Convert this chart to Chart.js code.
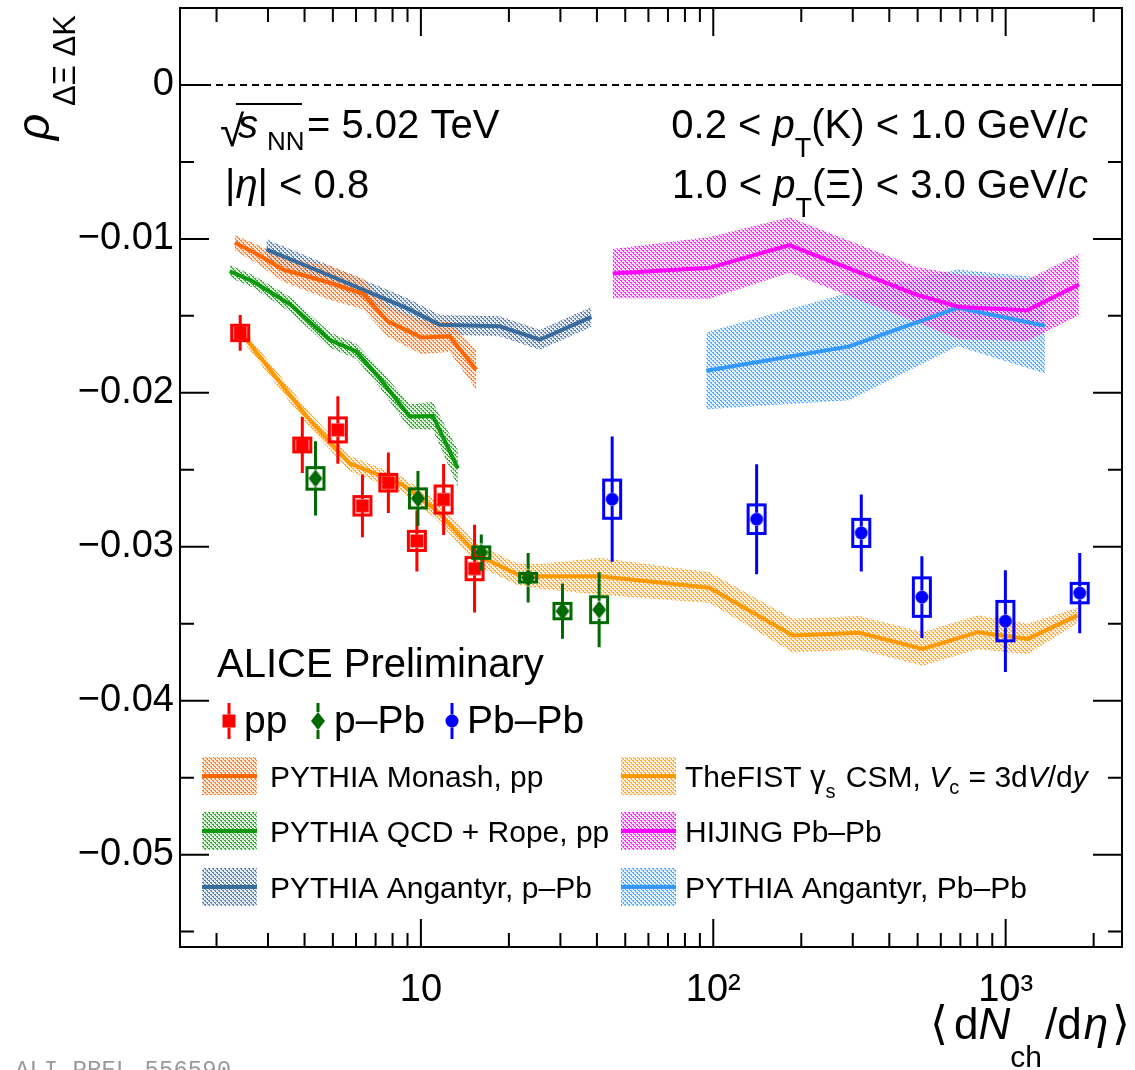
<!DOCTYPE html>
<html><head><meta charset="utf-8">
<script src="https://cdn.jsdelivr.net/npm/chart.js@4.4.1/dist/chart.umd.min.js"></script>
<style>html,body{margin:0;padding:0;background:#fff;}canvas{display:block;}</style>
</head><body>
<canvas id="c" width="1135" height="1070" style="width:1135px;height:1070px"></canvas>
<script>
// ---------------- data ----------------
const ppX    = [2.41, 3.93, 5.20, 6.31, 7.74, 9.69, 11.96, 15.26];
const ppY    = [-0.01611, -0.02339, -0.02241, -0.02734, -0.02584, -0.02962, -0.02693, -0.03142];
const ppStat = [0.00116, 0.00182, 0.00219, 0.00204, 0.00197, 0.00198, 0.0023, 0.00285];
const ppSys  = [0.0005, 0.00045, 0.00078, 0.0006, 0.00054, 0.00062, 0.00088, 0.00072];

const pPbX    = [4.36, 9.77, 16.09, 23.27, 30.5, 40.7];
const pPbY    = [-0.02556, -0.02686, -0.03038, -0.03201, -0.03418, -0.03409];
const pPbStat = [0.00241, 0.00179, 0.00117, 0.00161, 0.00179, 0.00243];
const pPbSys  = [0.0007, 0.00062, 0.00037, 0.00028, 0.0005, 0.00084];

const PbPbX    = [45.1, 140.7, 320.8, 517, 998, 1792];
const PbPbY    = [-0.02691, -0.02821, -0.0291, -0.03327, -0.03483, -0.03301];
const PbPbStat = [0.00407, 0.00357, 0.0025, 0.00265, 0.00331, 0.00261];
const PbPbSys  = [0.00124, 0.00093, 0.00088, 0.00125, 0.00128, 0.00063];

const monashX   = [2.31, 2.70, 3.38, 4.87, 6.33, 7.71, 10.03, 12.53, 15.47];
const monashY   = [-0.01025, -0.0109, -0.01199, -0.01285, -0.01357, -0.01536, -0.0164, -0.01633, -0.0185];
const monashErr = [0.0005, 0.0006, 0.0008, 0.0011, 0.001, 0.001, 0.0011, 0.001, 0.0013];

const ropeX   = [2.22, 2.66, 3.58, 4.87, 6.01, 7.22, 9.15, 10.99, 13.38];
const ropeY   = [-0.0121, -0.01275, -0.01427, -0.01655, -0.01731, -0.01904, -0.02154, -0.0215, -0.02491];
const ropeErr = [0.0004, 0.0004, 0.0005, 0.0005, 0.0005, 0.0006, 0.0008, 0.0009, 0.0012];

const angpPbX   = [2.96, 4.50, 6.33, 8.92, 11.58, 18.58, 25.5, 38.3];
const angpPbY   = [-0.01068, -0.0121, -0.01329, -0.01448, -0.01557, -0.01568, -0.01655, -0.01507];
const angpPbErr = [0.00065, 0.00065, 0.00065, 0.00065, 0.00065, 0.00065, 0.00065, 0.00065];

const fistX   = [2.43, 4.16, 5.70, 7.42, 8.68, 11.29, 15.66, 21.2, 25.5, 40.8, 97.1, 187, 316, 520, 802, 1189, 1763];
const fistY   = [-0.01611, -0.02176, -0.02458, -0.02545, -0.02599, -0.02762, -0.03055, -0.03175, -0.03192, -0.03192, -0.03266, -0.03577, -0.03559, -0.03663, -0.03555, -0.03598, -0.03446];
const fistErr = [0.0004, 0.0005, 0.0005, 0.0005, 0.0005, 0.0006, 0.0007, 0.0007, 0.0008, 0.0012, 0.0010, 0.0011, 0.0011, 0.0011, 0.0011, 0.0010, 0.0005];

const hijX   = [45.3, 97.1, 182, 495, 694, 1185, 1781];
const hijY   = [-0.01225, -0.01188, -0.0104, -0.01362, -0.01442, -0.01464, -0.01296];
const hijErr = [0.0016, 0.002, 0.0018, 0.0018, 0.0021, 0.002, 0.002];

const angPbPbX   = [94.6, 292, 685, 1364];
const angPbPbY   = [-0.01857, -0.01698, -0.01448, -0.01564];
const angPbPbErr = [0.0025, 0.0035, 0.0025, 0.0031];

const X_TICKS  = [2,3,4,5,6,7,8,9,10,20,30,40,50,60,70,80,90,100,200,300,400,500,600,700,800,900,1000,2000];
const X_MAJOR  = [10, 100, 1000];
const X_LABELS = {10: '10', 100: '10²', 1000: '10³'};
const Y_TICKS  = [-0.05, -0.04, -0.03, -0.02, -0.01, 0];
const Y_LABELS = ['−0.05', '−0.04', '−0.03', '−0.02', '−0.01', '0'];
const Y_MINOR_STEP = 0.005;

// ---------------- styles ----------------
const FONT = '"Liberation Sans", Arial, Helvetica, sans-serif';
const RED = '#ff0000', DGREEN = '#006a00', BLUE = '#0000ff';
const C_MONASH = '#ff6600', C_FIST = '#ff9900', C_ROPE = '#0c9a0c',
      C_ANGP = '#3a6b9e', C_HIJ = '#ff00ff', C_ANGA = '#3399ff';

function tilePattern(color) {
  const c = document.createElement('canvas'); c.width = 4; c.height = 4;
  const g = c.getContext('2d');
  g.fillStyle = color;
  g.globalAlpha = 0.14; g.fillRect(0, 0, 4, 4);
  g.globalAlpha = 0.8;
  g.fillRect(0, 0, 2, 1); g.fillRect(2, 2, 2, 1); g.fillRect(1, 1, 1, 1); g.fillRect(3, 3, 1, 1);
  return g.createPattern(c, 'repeat');
}
function markerCanvas(kind, color) {
  const c = document.createElement('canvas'); c.width = 20; c.height = 20;
  const g = c.getContext('2d'); g.fillStyle = color;
  if (kind === 'square') g.fillRect(3.5, 3.5, 13, 13);
  else if (kind === 'diamond') { g.beginPath(); g.moveTo(10, 1); g.lineTo(17, 10); g.lineTo(10, 19); g.lineTo(3, 10); g.closePath(); g.fill(); }
  else { g.beginPath(); g.arc(10, 10, 6.5, 0, 2 * Math.PI); g.fill(); }
  return c;
}
const M_PP = markerCanvas('square', RED), M_PPB = markerCanvas('diamond', DGREEN), M_PBPB = markerCanvas('circle', BLUE);
const PAT = {monash: tilePattern(C_MONASH), fist: tilePattern(C_FIST), rope: tilePattern(C_ROPE),
             angp: tilePattern(C_ANGP), hij: tilePattern(C_HIJ), anga: tilePattern(C_ANGA)};

function pts(xs, ys, off, sgn) { return xs.map((x, i) => ({x: x, y: ys[i] + (off ? sgn * off[i] : 0)})); }
function band(xs, ys, es, pat, color) {
  return [
    {data: pts(xs, ys, es, 1), borderWidth: 0, pointRadius: 0, fill: '+1', backgroundColor: pat, order: 3},
    {data: pts(xs, ys, es, -1), borderWidth: 0, pointRadius: 0, fill: false, order: 3},
    {data: pts(xs, ys), borderColor: color, borderWidth: 4, pointRadius: 0, fill: false, order: 2}
  ];
}

const datasets = [
  {data: pts(ppX, ppY), showLine: false, pointStyle: M_PP, pointRadius: 7, order: 0},
  {data: pts(pPbX, pPbY), showLine: false, pointStyle: M_PPB, pointRadius: 7, order: 0},
  {data: pts(PbPbX, PbPbY), showLine: false, pointStyle: M_PBPB, pointRadius: 7, order: 0},
  ...band(monashX, monashY, monashErr, PAT.monash, C_MONASH),
  ...band(ropeX, ropeY, ropeErr, PAT.rope, C_ROPE),
  ...band(angpPbX, angpPbY, angpPbErr, PAT.angp, C_ANGP),
  ...band(fistX, fistY, fistErr, PAT.fist, C_FIST),
  ...band(hijX, hijY, hijErr, PAT.hij, C_HIJ),
  ...band(angPbPbX, angPbPbY, angPbPbErr, PAT.anga, C_ANGA),
  {data: [{x: 1.5, y: 0}, {x: 2500, y: 0}], borderColor: '#000', borderWidth: 2, borderDash: [7, 5], pointRadius: 0, fill: false, order: 4}
];

function fnt(s, i, fam) { return (i ? 'italic ' : '') + s + 'px ' + (fam || FONT); }
function rich(ctx, x, y, parts, align) {
  let total = 0;
  const ws = parts.map(p => { ctx.font = fnt(p.s, p.i, p.f); const w = ctx.measureText(p.t).width + (p.g || 0); total += w; return w; });
  let cx = align === 'right' ? x - total : x;
  parts.forEach((p, k) => { ctx.font = fnt(p.s, p.i, p.f); ctx.fillText(p.t, cx, y + (p.dy || 0)); cx += ws[k]; });
}

function drawErrors(ctx, xs, ys, X, Y, S, SY, color, half) {
  ctx.save(); ctx.strokeStyle = color; ctx.lineWidth = 3;
  X.forEach((x, i) => {
    const px = xs.getPixelForValue(x), py = ys.getPixelForValue(Y[i]);
    const t = ys.getPixelForValue(Y[i] + S[i]), b = ys.getPixelForValue(Y[i] - S[i]);
    ctx.beginPath(); ctx.moveTo(px, py - half); ctx.lineTo(px, t); ctx.moveTo(px, py + half); ctx.lineTo(px, b); ctx.stroke();
    const bt = ys.getPixelForValue(Y[i] + SY[i]), bb = ys.getPixelForValue(Y[i] - SY[i]);
    ctx.strokeRect(px - 8.5, bt, 17, bb - bt);
  });
  ctx.restore();
}

const decor = {
  id: 'decor',
  afterDatasetsDraw(chart) {
    const ctx = chart.ctx, xs = chart.scales.x, ys = chart.scales.y, a = chart.chartArea;
    drawErrors(ctx, xs, ys, ppX, ppY, ppStat, ppSys, RED, 6.5);
    drawErrors(ctx, xs, ys, pPbX, pPbY, pPbStat, pPbSys, DGREEN, 9);
    drawErrors(ctx, xs, ys, PbPbX, PbPbY, PbPbStat, PbPbSys, BLUE, 6.5);
    ctx.save();
    ctx.strokeStyle = '#000'; ctx.lineWidth = 2;
    ctx.strokeRect(a.left, a.top, a.right - a.left, a.bottom - a.top);
    ctx.beginPath();
    X_TICKS.forEach(v => {
      const px = xs.getPixelForValue(v), L = X_MAJOR.includes(v) ? 28 : 14;
      ctx.moveTo(px, a.bottom); ctx.lineTo(px, a.bottom - L);
      ctx.moveTo(px, a.top); ctx.lineTo(px, a.top + L);
    });
    for (let i = -11; i <= 0; i++) {
      const v = i * Y_MINOR_STEP, py = ys.getPixelForValue(v), L = (i % 2 === 0) ? 29 : 14;
      ctx.moveTo(a.left, py); ctx.lineTo(a.left + L, py);
      ctx.moveTo(a.right, py); ctx.lineTo(a.right - L, py);
    }
    ctx.stroke();
    ctx.restore();
  },
  afterDraw(chart) {
    const ctx = chart.ctx;
    ctx.save();
    ctx.fillStyle = '#000'; ctx.textBaseline = 'alphabetic'; ctx.textAlign = 'left';
    // y-axis title (rotated)
    ctx.save(); ctx.translate(49, 140); ctx.rotate(-Math.PI / 2);
    ctx.font = fnt(46, true); ctx.fillText('ρ', 0, 0);
    ctx.font = fnt(31); ctx.fillText('ΔΞ ΔK', 34, 26);
    ctx.restore();
    // x-axis title
    rich(ctx, 1130, 1039, [
      {t: '⟨', s: 46, f: '"DejaVu Sans", sans-serif', g: 6}, {t: 'd', s: 44}, {t: 'N', s: 44, i: true},
      {t: 'ch', s: 30, dy: 28, g: 3}, {t: '/d', s: 44, g: 2}, {t: 'η', s: 44, i: true, g: 4},
      {t: '⟩', s: 46, f: '"DejaVu Sans", sans-serif'}], 'right');
    // annotations
    ctx.font = fnt(44); ctx.fillText('√', 220, 146);
    ctx.fillRect(236, 103, 66, 2);
    ctx.font = fnt(40, true); ctx.fillText('s', 238, 138);
    ctx.font = fnt(26); ctx.fillText('NN', 267, 150);
    ctx.font = fnt(40); ctx.fillText('= 5.02 TeV', 307, 138);
    rich(ctx, 225, 198, [{t: '|', s: 40}, {t: 'η', s: 40, i: true}, {t: '|', s: 40}, {t: ' < 0.8', s: 40}]);
    rich(ctx, 1088, 138, [{t: '0.2 < ', s: 40}, {t: 'p', s: 40, i: true}, {t: 'T', s: 27, dy: 19}, {t: '(K) < 1.0 GeV/', s: 40}, {t: 'c', s: 40, i: true}], 'right');
    rich(ctx, 1088, 198, [{t: '1.0 < ', s: 40}, {t: 'p', s: 40, i: true}, {t: 'T', s: 27, dy: 19}, {t: '(Ξ) < 3.0 GeV/', s: 40}, {t: 'c', s: 40, i: true}], 'right');
    ctx.font = fnt(40); ctx.fillText('ALICE Preliminary', 217, 677);
    // data legend
    const leg = [[229, M_PP, RED, 'pp', 244, 6.5], [318, M_PPB, DGREEN, 'p–Pb', 334, 9], [452, M_PBPB, BLUE, 'Pb–Pb', 467, 6.5]];
    leg.forEach(([mx, m, col, txt, tx, h]) => {
      ctx.strokeStyle = col; ctx.lineWidth = 3; ctx.beginPath();
      ctx.moveTo(mx, 703); ctx.lineTo(mx, 721 - h); ctx.moveTo(mx, 721 + h); ctx.lineTo(mx, 739); ctx.stroke();
      ctx.drawImage(m, mx - 10, 711);
      ctx.fillStyle = '#000'; ctx.font = fnt(39); ctx.fillText(txt, tx, 733);
    });
    // model legend
    const rows = [776, 831, 887];
    const models = [
      [202, rows[0], PAT.monash, C_MONASH], [202, rows[1], PAT.rope, C_ROPE], [202, rows[2], PAT.angp, C_ANGP],
      [621, rows[0], PAT.fist, C_FIST], [621, rows[1], PAT.hij, C_HIJ], [621, rows[2], PAT.anga, C_ANGA]];
    models.forEach(([x, y, p, c]) => {
      ctx.fillStyle = p; ctx.fillRect(x, y - 19, 55, 38);
      ctx.fillStyle = c; ctx.fillRect(x, y - 2, 55, 4);
    });
    ctx.fillStyle = '#000';
    ctx.font = fnt(30);
    ctx.fillText('PYTHIA Monash, pp', 270, 787);
    ctx.fillText('PYTHIA QCD + Rope, pp', 270, 842);
    ctx.fillText('PYTHIA Angantyr, p–Pb', 270, 898);
    rich(ctx, 685, 787, [{t: 'TheFIST ', s: 30}, {t: 'γ', s: 31}, {t: 's', s: 20, dy: 11, g: 2}, {t: ' CSM, ', s: 30},
      {t: 'V', s: 30, i: true}, {t: 'c', s: 20, dy: 7, g: 1}, {t: ' = 3d', s: 30}, {t: 'V', s: 30, i: true}, {t: '/d', s: 30}, {t: 'y', s: 30, i: true}]);
    ctx.font = fnt(30);
    ctx.fillText('HIJING Pb–Pb', 685, 842);
    ctx.fillText('PYTHIA Angantyr, Pb–Pb', 685, 898);
    // preliminary id
    ctx.fillStyle = '#9a9a9a'; ctx.font = fnt(24, false, '"Liberation Mono", monospace');
    ctx.fillText('ALI-PREL-556590', 15, 1077);
    ctx.restore();
  }
};

new Chart(document.getElementById('c'), {
  type: 'line',
  data: {datasets: datasets},
  options: {
    responsive: false, animation: false, devicePixelRatio: 1,
    parsing: true, spanGaps: true,
    layout: {padding: {left: 0, right: 13, top: 8, bottom: 0}},
    plugins: {legend: {display: false}, tooltip: {enabled: false}, title: {display: false}},
    elements: {line: {tension: 0}},
    scales: {
      x: {
        type: 'logarithmic', position: 'bottom', min: 1.5, max: 2500,
        grid: {display: false, drawTicks: false}, border: {display: false},
        ticks: {autoSkip: false, maxRotation: 0, minRotation: 0, color: '#000', padding: 21,
          font: {family: FONT, size: 38}, callback: (v) => X_LABELS[v] || ''},
        afterBuildTicks: (s) => { s.ticks = X_TICKS.map(v => ({value: v})); },
        afterFit: (s) => { s.height = 123; s.paddingLeft = 0; s.paddingRight = 0; s.paddingTop = 0; s.paddingBottom = 0; }
      },
      y: {
        type: 'linear', position: 'left', min: -0.056, max: 0.005,
        grid: {display: false, drawTicks: false}, border: {display: false},
        ticks: {color: '#000', padding: 6, font: {family: FONT, size: 38},
          callback: (v) => { const k = Y_TICKS.findIndex(t => Math.abs(t - v) < 1e-9); return k >= 0 ? Y_LABELS[k] : ''; }},
        afterBuildTicks: (s) => { s.ticks = Y_TICKS.map(v => ({value: v})); },
        afterFit: (s) => { s.width = 180; s.paddingTop = 0; s.paddingBottom = 0; s.paddingLeft = 0; s.paddingRight = 0; }
      }
    }
  },
  plugins: [decor]
});
</script>
</body></html>
